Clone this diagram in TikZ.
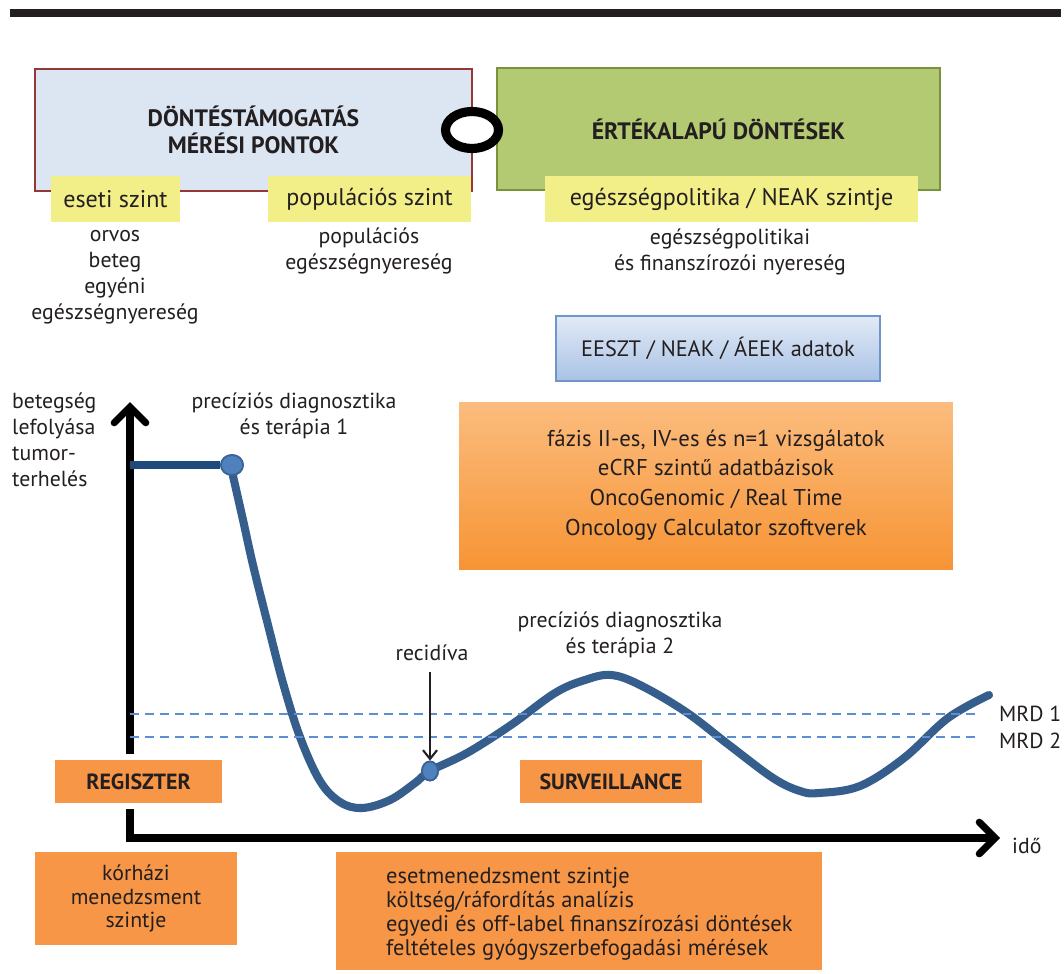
\documentclass[tikz,border=0pt]{standalone}
\usepackage{fontspec}
\setmainfont{PT Sans}
\usetikzlibrary{positioning, calc, arrows.meta, shapes.geometric}
\definecolor{Ink}{HTML}{231F20}
\definecolor{PaleBlue}{HTML}{DCE6F2}
\definecolor{BoxRed}{HTML}{953735}
\definecolor{Leaf}{HTML}{B3C972}
\definecolor{LeafEdge}{HTML}{77933C}
\definecolor{Lemon}{HTML}{F3EF88}
\definecolor{Tangerine}{HTML}{F79646}
\definecolor{OrangeTop}{HTML}{FBBC7E}
\definecolor{OrangeBot}{HTML}{F79434}
\definecolor{SkyTop}{HTML}{E2EAF6}
\definecolor{SkyBot}{HTML}{A9C2E5}
\definecolor{SkyEdge}{HTML}{7095CB}
\definecolor{Course}{HTML}{355E8C}
\definecolor{CourseDark}{HTML}{1F4A7E}
\definecolor{DotFill}{HTML}{4F81BD}
\definecolor{DotEdge}{HTML}{3A6497}
\definecolor{Mrd}{HTML}{5B8FD3}
\tikzset{
    titlebox/.style={rectangle, line width=1.6pt, minimum height=2.44cm, align=center, text=Ink, font=\bfseries\fontsize{13.5}{15.5}\selectfont},
    tagbox/.style={rectangle, fill=Lemon, minimum height=0.92cm, text=Ink, font=\fontsize{13.7}{16}\selectfont},
    plaintext/.style={align=center, text=Ink, font=\fontsize{12.4}{14.8}\selectfont},
    orangebox/.style={rectangle, fill=Tangerine, text=Ink},
    axis/.style={line width=4pt, {Straight Barb[length=9pt, width=18pt, line cap=round]}-{Straight Barb[length=9pt, width=18pt, line cap=round]}},
    mrdline/.style={Mrd, line width=1.1pt, dash pattern=on 5pt off 3.5pt},
    course/.style={Course, line width=4.6pt, line cap=round},
    knot/.style={ellipse, fill=DotFill, draw=DotEdge, line width=1pt, inner sep=0pt},
}
\begin{document}
\begin{tikzpicture}[x=0.02cm, y=-0.02cm]
    % canvas
    \useasboundingbox (0,0) rectangle (1064,973);
    \fill[white] (0,0) rectangle (1064,973);
    \fill[Ink] (10,9) rectangle (1061,17);

    % upper boxes
    \node[titlebox, fill=PaleBlue, draw=BoxRed, minimum width=8.74cm] (support) at (253.5,130) {DÖNTÉSTÁMOGATÁS\\MÉRÉSI PONTOK};
    \node[titlebox, fill=Leaf, draw=LeafEdge, minimum width=8.86cm] (value) at (718.5,129) {ÉRTÉKALAPÚ DÖNTÉSEK};
    \node[ellipse, draw=black, fill=white, line width=5.2pt, inner sep=0pt, minimum width=1.06cm, minimum height=0.74cm] (link) at (472,130) {};

    % levels
    \node[tagbox, minimum width=2.58cm] (case) at (115.5,199) {eseti szint};
    \node[tagbox, minimum width=4.06cm] (pop) at (369.5,199) {populációs szint};
    \node[tagbox, minimum width=7.46cm] (policy) at (731.5,199) {egészségpolitika / NEAK szintje};
    \node[plaintext] (casegain) at (115,277) {orvos\\beteg\\egyéni\\egészségnyereség};
    \node[plaintext] (popgain) at (369,251) {populációs\\egészségnyereség};
    \node[plaintext] (policygain) at (730,252) {egészségpolitikai\\és finanszírozói nyereség};

    % data sources
    \node[rectangle, draw=SkyEdge, line width=1pt, top color=SkyTop, bottom color=SkyBot, minimum width=6.48cm, minimum height=1.3cm, text=Ink, font=\fontsize{12.7}{15}\selectfont] (data) at (718,348.5) {EESZT / NEAK / ÁEEK adatok};
    \node[rectangle, top color=OrangeTop, bottom color=OrangeBot, minimum width=9.88cm, minimum height=3.36cm] (trials) at (706,486) {};
    \node[plaintext, font=\fontsize{13}{17}\selectfont] (trialtext) at (716,485) {fázis II-es, IV-es és n=1 vizsgálatok\\eCRF szintű adatbázisok\\OncoGenomic / Real Time\\Oncology Calculator szoftverek};

    % axes
    \coordinate (origin) at (130,838);
    \coordinate (ytip) at (130,402);
    \coordinate (xtip) at (1000,838);
    \draw[axis] (ytip) -- (origin) -- (xtip);
    \node[plaintext, align=left, anchor=west] (ylabel) at (6,440) {betegség\\lefolyása\\tumor-\\terhelés};
    \node[plaintext, anchor=west] (xlabel) at (1006,846) {idő};

    % disease course
    \node[knot, minimum width=0.44cm, minimum height=0.4cm] (therapy1) at (232,465) {};
    \node[knot, minimum width=0.32cm, minimum height=0.38cm] (relapse) at (430,771) {};
    \draw[CourseDark, line width=4pt] (origin |- therapy1) -- (therapy1.west);
    \draw[course] (therapy1.south) plot[smooth, tension=0.6] coordinates {(233,476) (243,520) (253,565) (268,625) (283,683) (300,737) (320,781) (340,802) (362,808) (390,800) (415,783) (430,771) (467,753) (511,725) (555,693) (585,680) (611,675) (640,685) (686,712) (729,745) (773,778) (800,791) (819,793) (860,786) (904,758) (948,718) (989,695)};
    \node[knot, minimum width=0.44cm, minimum height=0.4cm] at (therapy1) {};
    \node[knot, minimum width=0.32cm, minimum height=0.38cm] at (relapse) {};

    % MRD thresholds
    \coordinate (mrd1) at (975,714);
    \coordinate (mrd2) at (975,737);
    \draw[mrdline] (origin |- mrd1) -- (mrd1);
    \draw[mrdline] (origin |- mrd2) -- (mrd2);
    \node[plaintext, anchor=west] (mrdlabel1) at (993,714) {MRD 1};
    \node[plaintext, anchor=west] (mrdlabel2) at (993,741) {MRD 2};

    % annotations
    \node[plaintext] (therapy1label) at (294,416) {precíziós diagnosztika\\és terápia 1};
    \node[plaintext] (therapy2label) at (620,635) {precíziós diagnosztika\\és terápia 2};
    \node[plaintext] (relapselabel) at (432,653) {recidíva};
    \draw[Ink, line width=1.2pt, -{Straight Barb[length=5pt, width=8pt]}] (relapselabel.south) ++(-2,5) -- (relapse.north);

    % phases
    \node[orangebox, draw=white, line width=3pt, minimum width=3.46cm, minimum height=0.98cm, font=\bfseries\fontsize{12.5}{15}\selectfont] (register) at (138.5,781.5) {REGISZTER};
    \node[orangebox, minimum width=3.64cm, minimum height=0.86cm, font=\bfseries\fontsize{12.5}{15}\selectfont] (surveil) at (611,781.5) {SURVEILLANCE};

    % management levels
    \node[orangebox, minimum width=4.04cm, minimum height=1.86cm, align=center, font=\fontsize{12.4}{13.6}\selectfont] (hospital) at (136,898.5) {kórházi\\menedzsment\\szintje};
    \node[orangebox, minimum width=9.72cm, minimum height=2.36cm] (casemgmt) at (579,911) {};
    \node[plaintext, align=left, anchor=west, font=\fontsize{12.8}{13.6}\selectfont] (casetext) at (380,914) {esetmenedzsment szintje\\költség/ráfordítás analízis\\egyedi és off-label finanszírozási döntések\\feltételes gyógyszerbefogadási mérések};
\end{tikzpicture}
\end{document}
